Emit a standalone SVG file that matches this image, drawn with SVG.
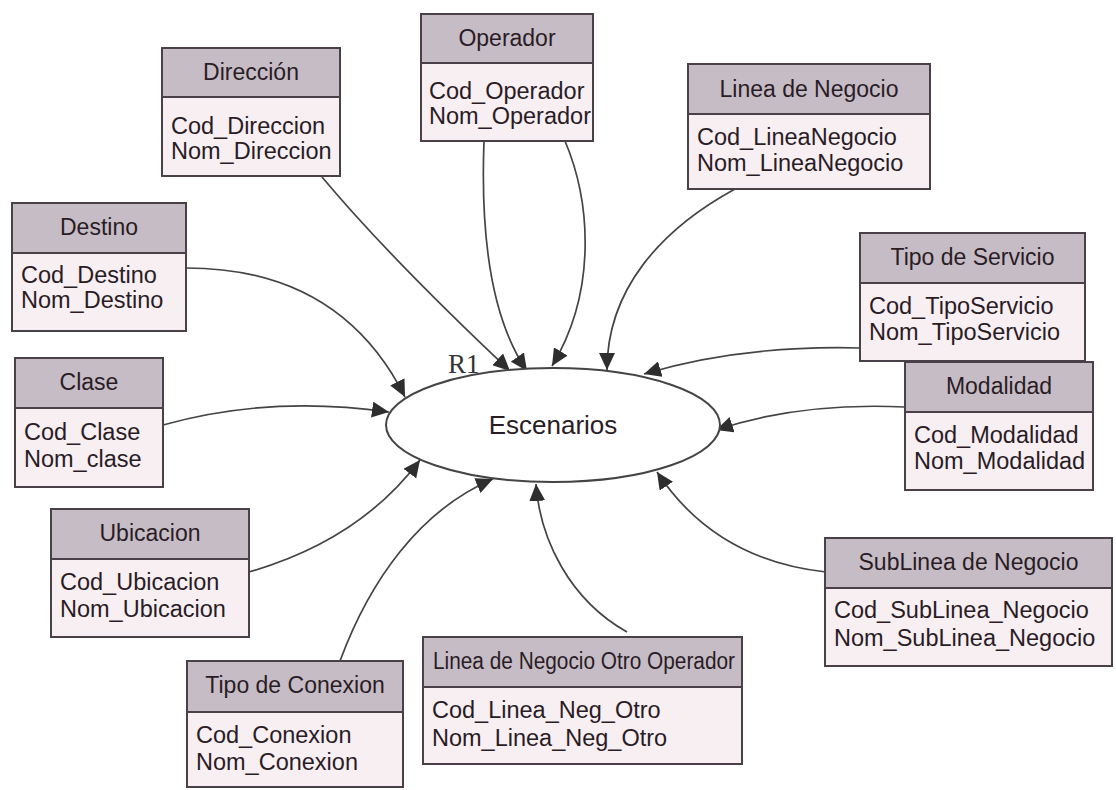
<svg xmlns="http://www.w3.org/2000/svg" width="1116" height="790" viewBox="0 0 1116 790">
  <style>
    .hd { fill: #c6bcc6; stroke: #4a4048; stroke-width: 2; }
    .bd { fill: #f8eff3; stroke: #4a4048; stroke-width: 2; }
    .ht { font-family: "Liberation Sans", Arial, sans-serif; font-size: 23px; fill: #2a1c25; text-anchor: middle; }
    .at { font-family: "Liberation Sans", Arial, sans-serif; font-size: 23.5px; fill: #2a1c25; }
    .cn { fill: none; stroke: #444; stroke-width: 1.7; marker-end: url(#arr); }
    .r1 { font-family: "Liberation Serif", "Times New Roman", serif; font-size: 27px; fill: #333; }
  </style>
  <defs>
    <marker id="arr" markerUnits="userSpaceOnUse" markerWidth="20" markerHeight="16" refX="17" refY="8" orient="auto">
      <path d="M0,0 L17,8 L0,16 Z" fill="#2e2e2e"/>
    </marker>
  </defs>
  <rect width="1116" height="790" fill="#ffffff"/>

  <!-- relationships into Escenarios -->
  <g id="connectors">
    <path class="cn" d="M322 177 Q 388 256 510 371"/>
    <path class="cn" d="M484 141 Q 478 300 527 371"/>
    <path class="cn" d="M565 141 C 590 200 598 290 552 366"/>
    <path class="cn" d="M735 189 C 660 230 607 290 607 370"/>
    <path class="cn" d="M860 348 Q 740 345 644 374"/>
    <path class="cn" d="M905 407 Q 800 402 716 430"/>
    <path class="cn" d="M826 572 Q 715 560 657 472"/>
    <path class="cn" d="M627 632 C 570 600 540 540 536 484"/>
    <path class="cn" d="M340 661 C 370 580 420 510 493 479"/>
    <path class="cn" d="M249 572 Q 360 540 420 460"/>
    <path class="cn" d="M163 425 Q 270 395 389 412"/>
    <path class="cn" d="M186 268 Q 340 268 405 397"/>
  </g>

  <!-- central entity -->
  <g id="escenarios">
    <ellipse cx="553" cy="425" rx="167" ry="57" fill="#ffffff" stroke="#444" stroke-width="2"/>
    <text class="ht" x="553" y="434" style="font-size:26px">Escenarios</text>
    <text class="r1" x="448" y="373">R1</text>
  </g>

  <g id="direccion">
    <rect class="bd" x="162" y="97" width="178" height="79"/>
    <rect class="hd" x="162" y="48" width="178" height="49"/>
    <text class="ht" x="251" y="80">Dirección</text>
    <text class="at" x="171" y="134">Cod_Direccion</text>
    <text class="at" x="171" y="159">Nom_Direccion</text>
  </g>

  <g id="operador">
    <rect class="bd" x="421" y="63" width="172" height="78"/>
    <rect class="hd" x="421" y="14" width="172" height="49"/>
    <text class="ht" x="507" y="46">Operador</text>
    <text class="at" x="429" y="99">Cod_Operador</text>
    <text class="at" x="429" y="124">Nom_Operador</text>
  </g>

  <g id="linea-negocio">
    <rect class="bd" x="688" y="114" width="242" height="75"/>
    <rect class="hd" x="688" y="64" width="242" height="50"/>
    <text class="ht" x="809" y="97">Linea de Negocio</text>
    <text class="at" x="697" y="145">Cod_LineaNegocio</text>
    <text class="at" x="697" y="171">Nom_LineaNegocio</text>
  </g>

  <g id="destino">
    <rect class="bd" x="12" y="253" width="174" height="78"/>
    <rect class="hd" x="12" y="203" width="174" height="50"/>
    <text class="ht" x="99" y="235">Destino</text>
    <text class="at" x="21" y="283">Cod_Destino</text>
    <text class="at" x="21" y="308">Nom_Destino</text>
  </g>

  <g id="tipo-servicio">
    <rect class="bd" x="860" y="283" width="225" height="78"/>
    <rect class="hd" x="860" y="233" width="225" height="50"/>
    <text class="ht" x="972.5" y="265">Tipo de Servicio</text>
    <text class="at" x="869" y="314">Cod_TipoServicio</text>
    <text class="at" x="869" y="340">Nom_TipoServicio</text>
  </g>

  <g id="clase">
    <rect class="bd" x="15" y="408" width="148" height="79"/>
    <rect class="hd" x="15" y="358" width="148" height="50"/>
    <text class="ht" x="89" y="390">Clase</text>
    <text class="at" x="24" y="440">Cod_Clase</text>
    <text class="at" x="24" y="467">Nom_clase</text>
  </g>

  <g id="modalidad">
    <rect class="bd" x="905" y="412" width="188" height="78"/>
    <rect class="hd" x="905" y="362" width="188" height="50"/>
    <text class="ht" x="999" y="394">Modalidad</text>
    <text class="at" x="914" y="443">Cod_Modalidad</text>
    <text class="at" x="914" y="469">Nom_Modalidad</text>
  </g>

  <g id="ubicacion">
    <rect class="bd" x="51" y="559" width="198" height="78"/>
    <rect class="hd" x="51" y="509" width="198" height="50"/>
    <text class="ht" x="150" y="541">Ubicacion</text>
    <text class="at" x="60" y="590">Cod_Ubicacion</text>
    <text class="at" x="60" y="617">Nom_Ubicacion</text>
  </g>

  <g id="sublinea-negocio">
    <rect class="bd" x="825" y="588" width="287" height="78"/>
    <rect class="hd" x="825" y="538" width="287" height="50"/>
    <text class="ht" x="968.5" y="570">SubLinea de Negocio</text>
    <text class="at" x="834" y="618">Cod_SubLinea_Negocio</text>
    <text class="at" x="834" y="646">Nom_SubLinea_Negocio</text>
  </g>

  <g id="linea-negocio-otro">
    <rect class="bd" x="423" y="687" width="319" height="77"/>
    <rect class="hd" x="423" y="637" width="319" height="50"/>
    <text class="ht" x="584" y="669" textLength="302" lengthAdjust="spacingAndGlyphs">Linea de Negocio Otro Operador</text>
    <text class="at" x="432" y="718">Cod_Linea_Neg_Otro</text>
    <text class="at" x="432" y="746">Nom_Linea_Neg_Otro</text>
  </g>

  <g id="tipo-conexion">
    <rect class="bd" x="187" y="712" width="216" height="75"/>
    <rect class="hd" x="187" y="661" width="216" height="51"/>
    <text class="ht" x="295" y="693">Tipo de Conexion</text>
    <text class="at" x="196" y="743">Cod_Conexion</text>
    <text class="at" x="196" y="770">Nom_Conexion</text>
  </g>
</svg>
